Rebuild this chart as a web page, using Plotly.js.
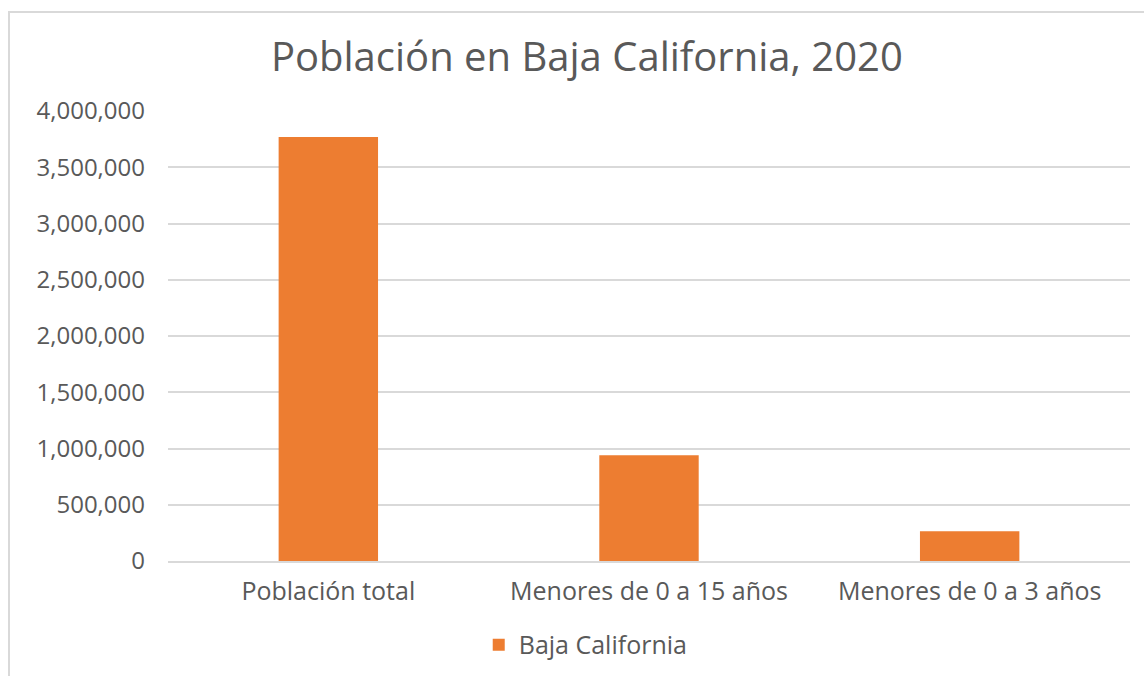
<!DOCTYPE html>
<html>
<head>
<meta charset="utf-8">
<script src="https://cdn.plot.ly/plotly-3.0.1.min.js"></script>
<style>
html,body{margin:0;padding:0;overflow:hidden;background:#fff;}
#wrap{position:relative;width:1144px;height:676px;overflow:hidden;}
#chart{width:1144px;height:676px;}
#frame{position:absolute;left:8px;top:11px;width:2000px;height:2000px;border:2px solid #d9d9d9;pointer-events:none;}
</style>
</head>
<body>
<div id="wrap">
<div id="chart"></div>
<div id="frame"></div>
</div>
<script>
const categories = ["Población total", "Menores de 0 a 15 años", "Menores de 0 a 3 años"];
const values = [3769020, 940000, 264000];
const seriesName = "Baja California";
const titleText = "Población en Baja California, 2020";
const tickVals = [0, 500000, 1000000, 1500000, 2000000, 2500000, 3000000, 3500000, 4000000];
const tickText = ["0", "500,000", "1,000,000", "1,500,000", "2,000,000", "2,500,000", "3,000,000", "3,500,000", "4,000,000"];

const font = "Open Sans, sans-serif";
const grey = "#595959";

Plotly.newPlot("chart", [{
  type: "bar",
  x: categories,
  y: values,
  name: seriesName,
  marker: {color: "#ed7d31"},
  width: 0.31,
  showlegend: true,
  hoverinfo: "x+y"
}], {
  width: 1144, height: 676,
  paper_bgcolor: "#ffffff", plot_bgcolor: "#ffffff",
  margin: {l: 168, r: 14, t: 111, b: 115},
  title: {text: titleText, font: {family: font, size: 40, color: grey}, x: 0.513, xanchor: "center", y: 0.915, yanchor: "middle"},
  xaxis: {
    tickfont: {family: font, size: 25, color: grey},
    showline: true, linecolor: "#d9d9d9", linewidth: 2, automargin: false,
    ticks: "", showgrid: false, fixedrange: true, ticklabelstandoff: 7
  },
  yaxis: {
    range: [0, 4000000], automargin: false,
    tickvals: tickVals, ticktext: tickText,
    tickfont: {family: font, size: 24, color: grey},
    showgrid: true, gridcolor: "#d9d9d9", gridwidth: 2,
    zeroline: false, showline: false, ticks: "", ticklabelstandoff: 22, fixedrange: true
  },
  showlegend: true,
  legend: {orientation: "h", xref: "container", yref: "container", x: 0.512, xanchor: "center", y: 0.046, yanchor: "middle",
           font: {family: font, size: 25, color: grey}, itemwidth: 30},
  bargap: 0.69
}, {displayModeBar: false, staticPlot: true});
</script>
</body>
</html>
